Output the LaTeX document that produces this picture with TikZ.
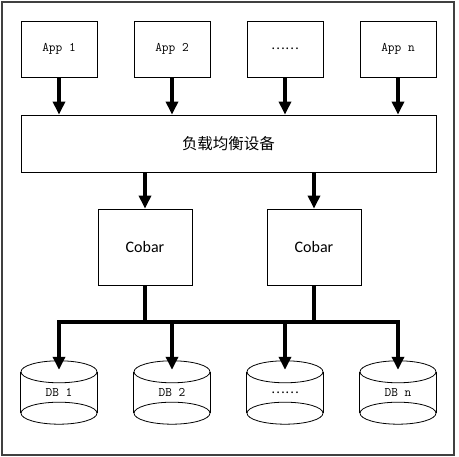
\documentclass[tikz,border=0pt]{standalone}
\usepackage{fontspec}
\setsansfont{Carlito}
\newfontfamily\cjk{Noto Sans CJK SC}
\usetikzlibrary{arrows.meta,calc,shadows}
\begin{document}
\begin{tikzpicture}[x=1pt,y=-1pt,
  box/.style={draw=black,line width=0.8pt,fill=white,inner sep=0pt,
    drop shadow={shadow xshift=1pt,shadow yshift=-1pt,fill=gray!80,opacity=1}},
  appbox/.style={box,minimum width=76pt,minimum height=56pt,
    font=\fontsize{13}{14}\ttfamily},
  cobarbox/.style={box,minimum width=94pt,minimum height=76pt,
    font=\fontsize{16}{18}\sffamily},
  dbnode/.style={inner sep=0pt,minimum width=76pt,minimum height=63pt,
    font=\fontsize{13}{14}\ttfamily},
  dots/.style={font=\fontsize{13}{14}\cjk},
  arr/.style={line width=3.2pt,-{Triangle[width=12pt,length=13pt]}},
  bus/.style={line width=3.2pt},
  cyl/.style={line width=0.8pt}]
\useasboundingbox (0,0) rectangle (459,457);
\draw[line width=1.2pt,draw=black!75] (2,2) rectangle (454,455);
% apps
\node[appbox] (app1) at (59,49) {App 1};
\node[appbox] (app2) at (172,49) {App 2};
\node[appbox,dots] (app3) at (285,49) {……};
\node[appbox] (app4) at (398,49) {App n};
% load balancer
\node[box,minimum width=415pt,minimum height=57pt,font=\fontsize{15.5}{18}\cjk] (lb) at (228.5,143.5) {负载均衡设备};
\foreach \a in {app1,app2,app3,app4}
  \draw[arr] (\a.south) -- (\a.south |- lb.north);
% cobar
\node[cobarbox] (cobar1) at (145,247) {Cobar};
\node[cobarbox] (cobar2) at (314,247) {Cobar};
\draw[arr] (cobar1.north |- lb.south) -- (cobar1.north);
\draw[arr] (cobar2.north |- lb.south) -- (cobar2.north);
% bus
\coordinate (busL) at (59,322);
\coordinate (busR) at (398,322);
\draw[bus] (cobar1.south) -- (cobar1.south |- busL);
\draw[bus] (cobar2.south) -- (cobar2.south |- busL);
\draw[bus] ($(busL)+(-1.6,0)$) -- ($(busR)+(1.6,0)$);
% databases
\node[dbnode] (db1) at (59,392.5) {DB 1};
\node[dbnode] (db2) at (172,392.5) {DB 2};
\node[dbnode,dots] (db3) at (285,392.5) {……};
\node[dbnode] (db4) at (398,392.5) {DB n};
\foreach \d in {db1,db2,db3,db4}{
  \draw[cyl] ($(\d.north)+(0,11)$) ellipse [x radius=38pt,y radius=11pt];
  \draw[cyl] ($(\d.south)+(0,-11)$) ellipse [x radius=38pt,y radius=11pt];
  \draw[cyl] ($(\d.north west)+(0,11)$) -- ($(\d.south west)+(0,-11)$);
  \draw[cyl] ($(\d.north east)+(0,11)$) -- ($(\d.south east)+(0,-11)$);
  \coordinate (\d tip) at ($(\d.north)+(0,9)$);
  \draw[arr] (\d tip |- busL) -- (\d tip);
}
\end{tikzpicture}
\end{document}
